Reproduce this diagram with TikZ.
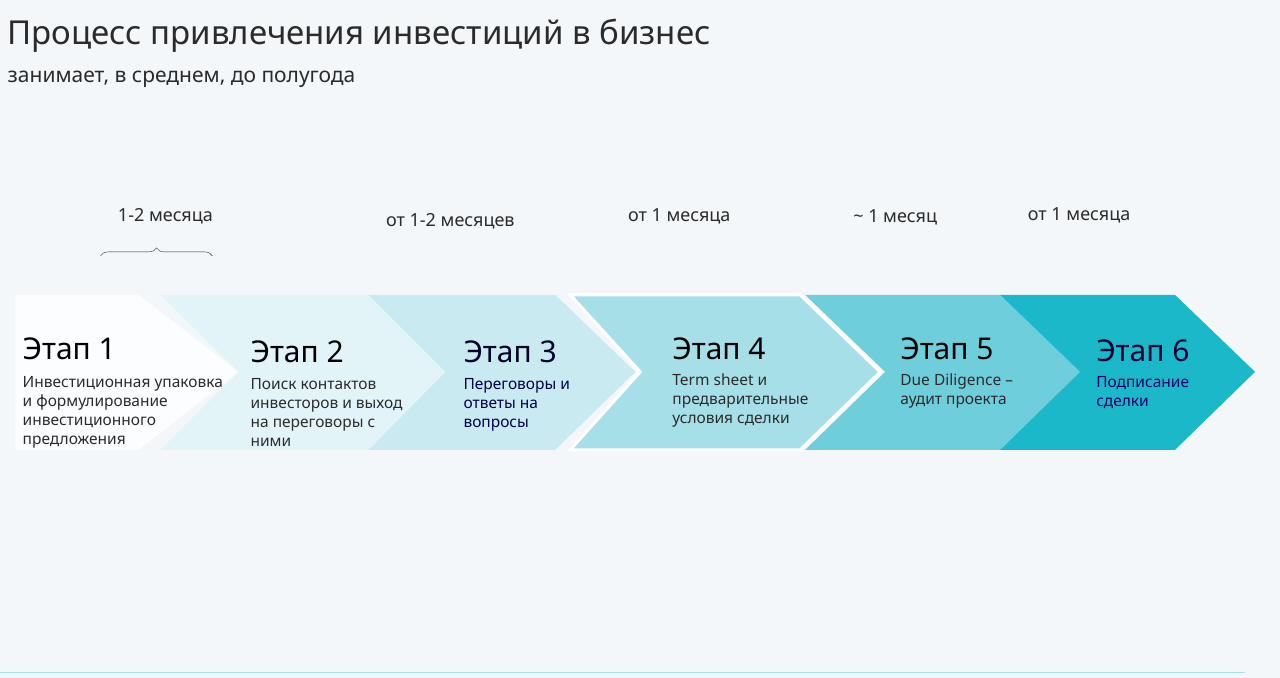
\documentclass[tikz,border=0pt]{standalone}
\usepackage{fontspec}
\setmainfont{Noto Sans}
\usetikzlibrary{decorations.pathreplacing}
\definecolor{bg}{HTML}{F3F7FA}
\definecolor{cA}{HTML}{FBFDFE}
\definecolor{cB}{HTML}{E3F4F8}
\definecolor{cC}{HTML}{C8EAF0}
\definecolor{cD}{HTML}{A6DFE8}
\definecolor{cE}{HTML}{6FCEDC}
\definecolor{cF}{HTML}{1BB8C9}
\definecolor{ink}{HTML}{2B2B2B}
\tikzset{
  etap/.style={anchor=north west, inner sep=0pt, font=\fontsize{30}{32}\selectfont\bfseries, text=black},
  opis/.style={anchor=north west, inner sep=0pt, align=left, font=\fontsize{15.5}{19}\selectfont, text=ink},
  srok/.style={inner sep=0pt, font=\fontsize{18}{20}\selectfont, text=ink},
}
\begin{document}
\begin{tikzpicture}[x=1pt,y=-1pt]
\fill[bg] (0,0) rectangle (1280,678);
% titles
\node[anchor=west, inner sep=0pt, font=\fontsize{33}{36}\selectfont\bfseries, text=ink] (title) at (7,36) {Процесс привлечения инвестиций в бизнес};
\node[anchor=west, inner sep=0pt, font=\fontsize{21}{24}\selectfont, text=ink] (sub) at (7,79) {занимает, в среднем, до полугода};
% chevrons, right to left
\fill[cF] (1000,295) -- (1175,295) -- (1255,372) -- (1175,450) -- (1000,450) -- cycle;
\fill[cE] (805,295) -- (1000,295) -- (1080,372) -- (1000,450) -- (805,450) -- (885,372) -- cycle;
\filldraw[cD, draw=white, line width=3pt] (570,295) -- (800,295) -- (880,372) -- (800,450) -- (570,450) -- (640,372) -- cycle;
\fill[cC] (368,295) -- (555,295) -- (635,372) -- (555,450) -- (368,450) -- (445,372) -- cycle;
\fill[cB] (160,295) -- (368,295) -- (445,372) -- (368,450) -- (160,450) -- (238,372) -- cycle;
\fill[cA] (15,295) -- (138,295) -- (238,372) -- (138,450) -- (15,450) -- cycle;
% stages
\node[etap] (e1) at (22,338) {Этап 1};
\node[opis] (o1) at (22,376) {Инвестиционная упаковка\\и формулирование\\инвестиционного\\предложения};
\node[etap] (e2) at (250,341) {Этап 2};
\node[opis] (o2) at (250,378) {Поиск контактов\\инвесторов и выход\\на переговоры с\\ними};
\node[etap, text=black!85!blue] (e3) at (463,341) {Этап 3};
\node[opis, text=black!70!blue] (o3) at (463,378) {Переговоры и\\ответы на\\вопросы};
\node[etap] (e4) at (672,338) {Этап 4};
\node[opis] (o4) at (672,374) {Term sheet и\\предварительные\\условия сделки};
\node[etap] (e5) at (900,338) {Этап 5};
\node[opis] (o5) at (900,374) {Due Diligence –\\аудит проекта};
\node[etap, text=black!80!blue] (e6) at (1096,340) {Этап 6};
\node[opis, text=black!60!blue] (o6) at (1096,376) {Подписание\\сделки};
% durations
\node[srok] (s1) at (165,216) {1-2 месяца};
\node[srok] (s2) at (450,221) {от 1-2 месяцев};
\node[srok] (s3) at (679,216) {от 1 месяца};
\node[srok] (s4) at (895,217) {\textasciitilde{} 1 месяц};
\node[srok] (s5) at (1079,215) {от 1 месяца};
\coordinate (b1) at (100,256);
\coordinate (b2) at (212,256);
\draw[ink, thin, decorate, decoration={brace, amplitude=8pt}] (b1) -- (b2);
% bottom line
\draw[cF!40, line width=1pt] (0,673) -- (1245,673);
\end{tikzpicture}
\end{document}
